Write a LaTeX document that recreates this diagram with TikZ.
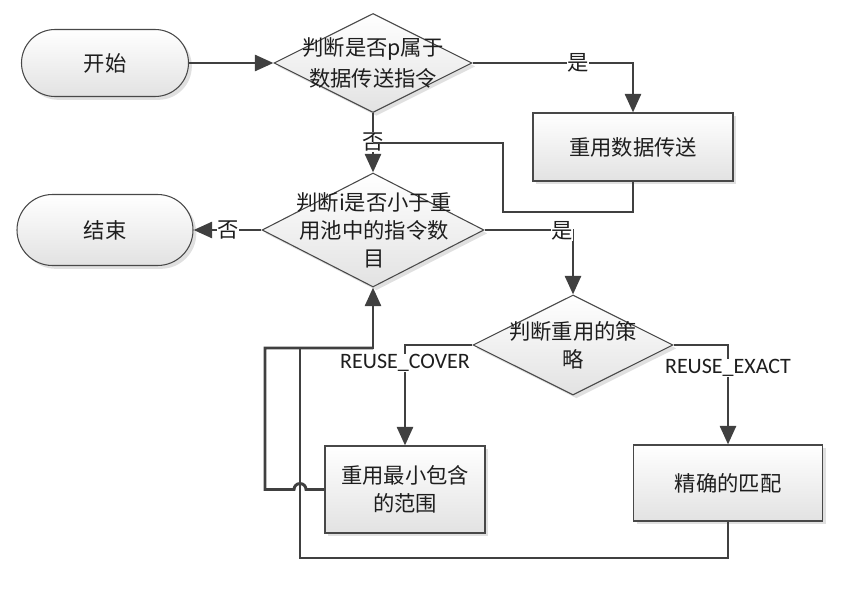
\documentclass[tikz,border=0pt]{standalone}
\usepackage{fontspec}
\newfontfamily\cjk{Noto Sans CJK SC}
\newfontfamily\lat{Carlito}
\usetikzlibrary{shapes.geometric,shapes.misc,arrows.meta,shadows}
\definecolor{ln}{RGB}{64,64,64}
\definecolor{bd}{RGB}{72,72,72}
\definecolor{sh}{RGB}{226,226,226}
\definecolor{tx}{RGB}{30,30,30}
\begin{document}
\begin{tikzpicture}[x=0.75pt,y=-0.75pt,
  base/.style={draw=bd,line width=0.8pt,top color=white,bottom color=sh,
    drop shadow={shadow xshift=2.5pt,shadow yshift=-2.5pt,fill=black,opacity=0.12},inner sep=0pt},
  term/.style={base,rounded rectangle},
  procbox/.style={base,rectangle},
  dec/.style={base,diamond},
  txt/.style={align=center,text=tx,font=\cjk\fontsize{16}{21}\selectfont},
  wire/.style={draw=ln,line width=2.2pt},
  conn/.style={wire,-{Triangle[length=14pt,width=12pt]}},
  lab/.style={fill=white,inner sep=0.5pt,text=tx,font=\cjk\fontsize{16}{20}\selectfont},
  latlab/.style={fill=white,inner sep=0.5pt,text=tx,font=\lat\fontsize{16.5}{20}\selectfont}
]
\useasboundingbox (0,0) rectangle (867,589);

% nodes
\node[term,minimum width=167*0.75pt,minimum height=67*0.75pt] (start) at (105,63) {};
\node[txt] (startt) at (start) {开始};
\node[dec,minimum width=198*0.75pt,minimum height=99*0.75pt] (d1) at (373,63) {};
\node[txt,font=\cjk\fontsize{16}{23.5}\selectfont] (d1t) at (373,63) {判断是否p属于\\数据传送指令};
\node[procbox,minimum width=200*0.75pt,minimum height=68*0.75pt] (b1) at (633,147) {};
\node[txt] (b1t) at (b1) {重用数据传送};
\node[dec,minimum width=222*0.75pt,minimum height=114*0.75pt] (d2) at (373,230) {};
\node[txt] (d2t) at (374,230) {判断i是否小于重\\用池中的指令数\\目};
\node[term,minimum width=176*0.75pt,minimum height=71*0.75pt] (end) at (105,230) {};
\node[txt] (endt) at (end) {结束};
\node[dec,minimum width=200*0.75pt,minimum height=100*0.75pt] (d3) at (573,345) {};
\node[txt] (d3t) at (573,345) {判断重用的策\\略};
\node[procbox,minimum width=160*0.75pt,minimum height=87*0.75pt] (b2) at (405,489.5) {};
\node[txt] (b2t) at (b2) {重用最小包含\\的范围};
\node[procbox,minimum width=189*0.75pt,minimum height=76*0.75pt] (b3) at (728,483) {};
\node[txt] (b3t) at (b3) {精确的匹配};

% helper coordinates
\coordinate (q1) at (633,212);
\coordinate (q2) at (503,212);
\coordinate (q3) at (503,143);
\coordinate (q4) at (373,143);
\coordinate (r1) at (728,558);
\coordinate (r2) at (300,558);
\coordinate (r3) at (300,348);
\coordinate (m) at (373,348);
\coordinate (h1) at (306,489.5);
\coordinate (k1) at (265,489.5);
\coordinate (k2) at (265,348);

% connectors
\draw[conn] (start.east) -- (d1.west);
\draw[conn] (d1.east) -| (b1.north);
\draw[conn] (d1.south) -- (d2.north);
\draw[conn] (d2.west) -- (end.east);
\draw[conn] (d2.east) -| (d3.north);
\draw[conn] (d3.west) -| (b2.north);
\draw[conn] (d3.east) -| (b3.north);
\draw[conn] (b3.south) -- (r1) -- (r2) -- (r3) -- (m) -- (d2.south);
\draw[wire] (b2.west) -- (h1) arc[start angle=0,end angle=180,radius=4.5pt] -- (k1) -- (k2) -- (m);

% labels
\node[lab] (y1) at (578,63) {是};
\node[lab] (n1) at (373,142) {否};
\node[lab] (n2) at (228,230) {否};
\node[lab] (y2) at (562,231) {是};
\node[latlab] (rc) at (405,363) {REUSE\_COVER};
\node[latlab] (re) at (728,368) {REUSE\_EXACT};

\draw[wire] (b1.south) -- (q1) -- (q2) -- (q3) -- (q4);
\end{tikzpicture}
\end{document}
